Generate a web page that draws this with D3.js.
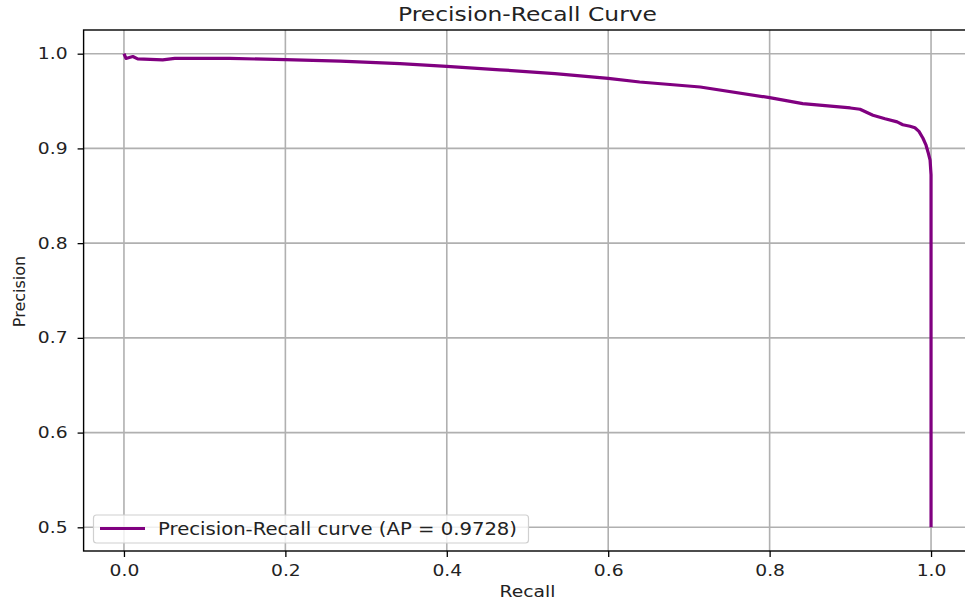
<!DOCTYPE html>
<html>
<head>
<meta charset="utf-8">
<script src="https://cdn.jsdelivr.net/npm/d3@7"></script>
<style>
  html, body { margin: 0; padding: 0; background: #fff; }
  svg { display: block; }
  text { font-family: "DejaVu Sans", sans-serif; fill: #222; }
</style>
</head>
<body>
<svg id="chart" width="965" height="604"></svg>
<script>
// ---- data ----
const recall    = [0.000, 0.0025, 0.011, 0.017, 0.048, 0.063, 0.131, 0.200, 0.268, 0.342, 0.400, 0.466, 0.534, 0.600, 0.639, 0.714, 0.800, 0.841, 0.900, 0.912, 0.928, 0.943, 0.958, 0.965, 0.974, 0.980, 0.985, 0.990, 0.9938, 0.9963, 0.9988, 1.000, 1.000];
const precision = [1.000, 0.995, 0.997, 0.9945, 0.9935, 0.995, 0.995, 0.9937, 0.9922, 0.9895, 0.9866, 0.983, 0.979, 0.974, 0.9701, 0.9648, 0.9536, 0.9473, 0.9427, 0.9413, 0.935, 0.9313, 0.928, 0.925, 0.9234, 0.9218, 0.918, 0.9107, 0.9034, 0.896, 0.8876, 0.872, 0.500];
const xTicks = [0.0, 0.2, 0.4, 0.6, 0.8, 1.0];
const yTicks = [0.5, 0.6, 0.7, 0.8, 0.9, 1.0];
const titleText = "Precision-Recall Curve";
const xLabel = "Recall";
const yLabel = "Precision";
const legendLabel = "Precision-Recall curve (AP = 0.9728)";
const lineColor = "#800080";

// ---- layout ----
const svg = d3.select("#chart");
const pL = 83.6, pR = 971.4, pT = 30, pB = 551;
const SX = 1.17; // horizontal stretch of the reference image

const x = d3.scaleLinear().domain([-0.05, 1.05]).range([pL, pR]);
const y = d3.scaleLinear().domain([0.475, 1.025]).range([pB, pT]);

// grid
const grid = svg.append("g");
grid.selectAll("line.vx").data(xTicks).enter().append("line")
  .attr("x1", d => x(d)).attr("x2", d => x(d)).attr("y1", pT).attr("y2", pB)
  .attr("stroke", "#b0b0b0").attr("stroke-width", 1.6);
grid.selectAll("line.hy").data(yTicks).enter().append("line")
  .attr("x1", pL).attr("x2", pR).attr("y1", d => y(d)).attr("y2", d => y(d))
  .attr("stroke", "#b0b0b0").attr("stroke-width", 1.6);

// curve
svg.append("path").datum(recall)
  .attr("d", d3.line().x((d, i) => x(recall[i])).y((d, i) => y(precision[i])))
  .attr("fill", "none").attr("stroke", lineColor).attr("stroke-width", 3.2)
  .attr("stroke-linejoin", "round").attr("stroke-linecap", "butt");

// axes
const xAxis = d3.axisBottom(x).tickValues(xTicks).tickFormat(d3.format(".1f")).tickSize(6).tickPadding(5);
const yAxis = d3.axisLeft(y).tickValues(yTicks).tickFormat(d3.format(".1f")).tickSize(6).tickPadding(5);
const gx = svg.append("g").attr("transform", `translate(0,${pB})`).call(xAxis);
const gy = svg.append("g").attr("transform", `translate(${pL},0)`).call(yAxis);
[gx, gy].forEach(g => {
  g.select(".domain").remove();
  g.selectAll(".tick line").attr("stroke", "#000").attr("stroke-width", 1.3);
  g.selectAll(".tick text").attr("font-size", 16).attr("fill", "#222")
    .style("font-family", "DejaVu Sans");
});
gx.selectAll(".tick text").attr("transform", `translate(0,14) scale(${SX},1)`).attr("x", 0).attr("y", 0).attr("dy", "0.71em");
gy.selectAll(".tick text").attr("x", 0).attr("transform", `translate(-16,0) scale(${SX},1)`);

// spines
svg.append("rect").attr("x", pL).attr("y", pT).attr("width", pR - pL).attr("height", pB - pT)
  .attr("fill", "none").attr("stroke", "#000").attr("stroke-width", 1.4);

// title
svg.append("text").attr("transform", `translate(${(pL + pR) / 2},20.5) scale(${SX},1)`)
  .attr("text-anchor", "middle").attr("font-size", 20).text(titleText);

// axis labels
svg.append("text").attr("transform", `translate(${(pL + pR) / 2},597) scale(${SX},1)`)
  .attr("text-anchor", "middle").attr("font-size", 16).text(xLabel);
svg.append("text").attr("transform", `translate(25,${(pT + pB) / 2 + 1}) rotate(-90) scale(1,0.95)`)
  .attr("text-anchor", "middle").attr("font-size", 16).text(yLabel);

// legend
const lg = svg.append("g");
lg.append("rect").attr("x", 93.5).attr("y", 515).attr("width", 435).attr("height", 28)
  .attr("rx", 3).attr("fill", "#fff").attr("fill-opacity", 0.8)
  .attr("stroke", "#d0d0d0").attr("stroke-width", 1.2);
lg.append("line").attr("x1", 100).attr("x2", 145).attr("y1", 528.5).attr("y2", 528.5)
  .attr("stroke", lineColor).attr("stroke-width", 3.2);
lg.append("text").attr("transform", `translate(158,534.5) scale(${SX},1)`)
  .attr("font-size", 16.8).text(legendLabel);
</script>
</body>
</html>
